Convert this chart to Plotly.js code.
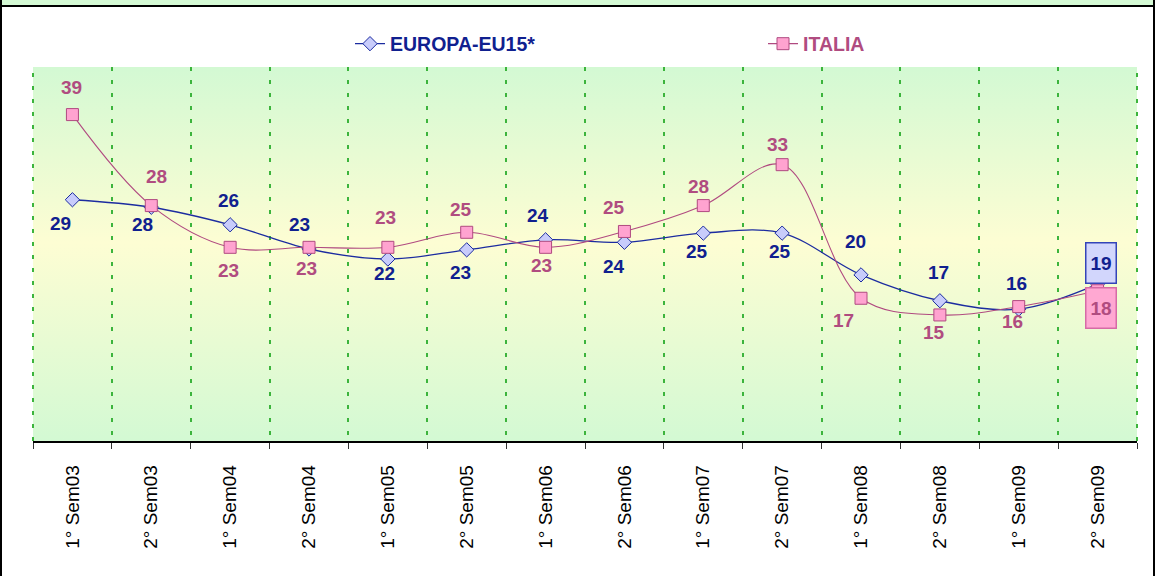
<!DOCTYPE html>
<html>
<head>
<meta charset="utf-8">
<script src="https://cdn.plot.ly/plotly-3.0.1.min.js"></script>
<style>
  html, body { margin: 0; padding: 0; background: #ffffff; }
  #wrap { position: relative; width: 1155px; height: 576px; overflow: hidden; }
  #chart { position: absolute; left: 0; top: 0; width: 1155px; height: 576px; }
  .frame { position: absolute; pointer-events: none; }
</style>
</head>
<body>
<div id="wrap">
  <div id="chart"></div>
  <div class="frame" style="left:0;top:0;width:1155px;height:5px;background:#d5fad5;"></div>
  <div class="frame" style="left:0;top:5px;width:1155px;height:2px;background:#000;"></div>
  <div class="frame" style="left:0;top:0;width:2px;height:576px;background:#000;"></div>
  <div class="frame" style="left:1153px;top:0;width:2px;height:576px;background:#000;"></div>
</div>
<script>
// ---- data ----
const categories = ["1° Sem03","2° Sem03","1° Sem04","2° Sem04","1° Sem05","2° Sem05","1° Sem06",
                    "2° Sem06","1° Sem07","2° Sem07","1° Sem08","2° Sem08","1° Sem09","2° Sem09"];
const europaName = "EUROPA-EU15*";
const europaValues = [28.9, 28.0, 25.9, 23.0, 21.8, 22.9, 24.1, 23.8, 24.9, 24.9, 19.9, 16.8, 15.8, 18.8];
const italiaName = "ITALIA";
const italiaValues = [39.1, 28.2, 23.2, 23.2, 23.2, 25.0, 23.2, 25.1, 28.2, 33.1, 17.1, 15.1, 16.1, 18.0];

// ---- label placement (layout config, pixel offsets from each point) ----
const europaLabelShift = [[-12,24],[-9,17],[-2,-24],[-10,-24],[-3,14],[-6,23],[-8,-24],[-10,24],[-6,18],[-2,18],[-6,-33],[-1,-28],[-2,-26],[3,-21]];
const italiaLabelShift = [[-1,-27],[5,-29],[-2,23],[-3,21],[-2,-30],[-6,-23],[-4,18],[-10,-24],[-5,-19],[-5,-20],[-18,22],[-6,18],[-6,15],[3,17]];

const EU_LINE = "#1c2ca0", EU_FILL = "#c8ccfb", EU_TEXT = "#10208f";
const IT_LINE = "#b04a80", IT_FILL = "#ffa3d0", IT_TEXT = "#b04c80";
const FONT = "Liberation Sans, Arial, sans-serif";

const traces = [
  {
    x: categories, y: europaValues, name: europaName, type: "scatter", mode: "lines+markers",
    line: { color: EU_LINE, width: 1.3, shape: "spline", smoothing: 1 },
    marker: { symbol: "diamond", size: 11, color: EU_FILL, line: { color: EU_LINE, width: 1 } },
    legend: "legend", cliponaxis: false
  },
  {
    x: categories, y: italiaValues, name: italiaName, type: "scatter", mode: "lines+markers",
    line: { color: IT_LINE, width: 1.1, shape: "spline", smoothing: 1 },
    marker: { symbol: "square", size: 12, color: IT_FILL, line: { color: IT_LINE, width: 1 } },
    legend: "legend2", cliponaxis: false
  }
];

function makeLabels(values, shifts, color, boxFill, boxLine) {
  const last = values.length - 1;
  return values.map((v, i) => {
    const a = {
      x: categories[i], y: v, xref: "x", yref: "y", text: String(Math.round(v)),
      showarrow: false, xshift: shifts[i][0], yshift: -shifts[i][1],
      font: { family: FONT, size: 19, color: color, weight: "bold" }
    };
    if (i === last) {
      a.bgcolor = boxFill; a.bordercolor = boxLine; a.borderwidth = 1.5;
      a.width = 27; a.height = 37; a.borderpad = 1;
    }
    return a;
  });
}

const annotations = [].concat(
  makeLabels(europaValues, europaLabelShift, EU_TEXT, "#d2d6fc", "#3444b8"),
  makeLabels(italiaValues, italiaLabelShift, IT_TEXT, "#ffa8d2", "#d66aa6")
);

const gradSvg = '<svg xmlns="http://www.w3.org/2000/svg" width="100" height="100" viewBox="0 0 100 100" preserveAspectRatio="none">' +
  '<defs><linearGradient id="g" x1="0" y1="0" x2="0" y2="1">' +
  '<stop offset="0" stop-color="#d3f9d3"/><stop offset="0.47" stop-color="#fdfdd3"/><stop offset="1" stop-color="#d3f9d3"/>' +
  '</linearGradient></defs><rect x="0" y="0" width="100" height="100" fill="url(#g)"/></svg>';

const edgeGrid = [0, 1].map(px => ({
  type: "line", xref: "paper", yref: "paper", x0: px, x1: px, y0: 0, y1: 1,
  line: { color: "#3cb43c", width: 2, dash: "4px,9px" }, layer: "above"
}));

const layout = {
  width: 1155, height: 576,
  margin: { l: 33, r: 18, t: 67, b: 135 },
  paper_bgcolor: "#ffffff",
  plot_bgcolor: "rgba(0,0,0,0)",
  font: { family: FONT, size: 18, color: "#000" },
  showlegend: true,
  hovermode: false,
  images: [{
    source: "data:image/svg+xml;charset=utf-8," + encodeURIComponent(gradSvg),
    xref: "paper", yref: "paper", x: 0, y: 1, sizex: 1, sizey: 1,
    sizing: "stretch", xanchor: "left", yanchor: "top", layer: "below"
  }],
  shapes: edgeGrid,
  xaxis: {
    type: "category", categoryorder: "array", categoryarray: categories,
    range: [-0.5, categories.length - 0.5],
    tickson: "boundaries", ticks: "outside", ticklen: 6, tickwidth: 1, tickcolor: "#333",
    showgrid: true, gridcolor: "#3cb43c", gridwidth: 2, griddash: "4px,9px",
    showline: true, linecolor: "#000", linewidth: 1.5,
    tickangle: -90, ticklabelstandoff: 15,
    tickfont: { family: FONT, size: 19, color: "#000" },
    zeroline: false, fixedrange: true
  },
  yaxis: {
    range: [0, 44.8], showgrid: false, zeroline: false, showline: false,
    showticklabels: false, ticks: "", fixedrange: true
  },
  legend: {
    x: (350 - 33) / 1104, xanchor: "left", y: 1.0615, yanchor: "middle",
    orientation: "h", bgcolor: "rgba(0,0,0,0)", borderwidth: 0,
    font: { family: FONT, size: 19.5, color: EU_TEXT, weight: "bold" }
  },
  legend2: {
    x: (763 - 33) / 1104, xanchor: "left", y: 1.0615, yanchor: "middle",
    orientation: "h", bgcolor: "rgba(0,0,0,0)", borderwidth: 0,
    font: { family: FONT, size: 19.5, color: IT_TEXT, weight: "bold" }
  },
  annotations: annotations
};

Plotly.newPlot("chart", traces, layout, { staticPlot: true, displayModeBar: false });
</script>
</body>
</html>
